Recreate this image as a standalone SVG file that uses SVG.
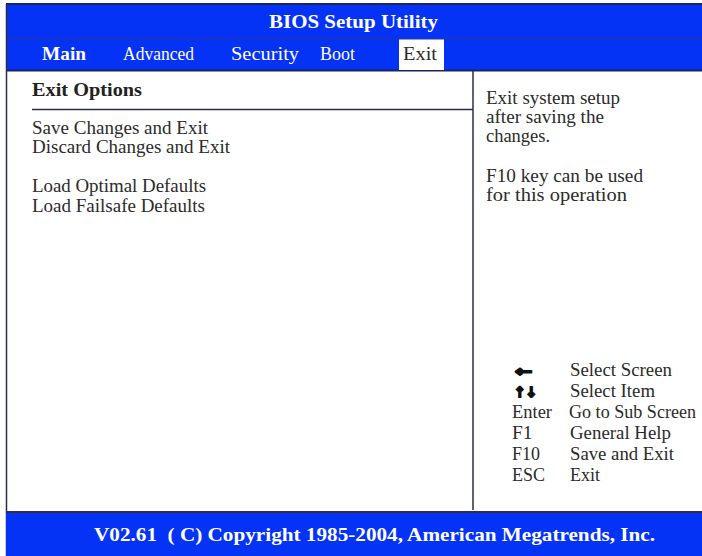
<svg xmlns="http://www.w3.org/2000/svg" width="702" height="556" viewBox="0 0 702 556">
  <style>
    .bar { fill: #0533f5; }
    .rule { stroke: #2a2e4a; stroke-width: 1.5; fill: none; }
    .t { font-family: "Liberation Serif", "Times New Roman", serif; font-size: 19.5px; fill: #2b2b2b; }
    .w { font-family: "Liberation Serif", "Times New Roman", serif; font-size: 19.5px; fill: #ffffff; }
    .b { font-weight: bold; }
    .arrow { font-family: "DejaVu Sans", sans-serif; font-size: 14px; font-weight: bold; fill: #111; stroke: #111; stroke-width: 1.8; }
  </style>
  <rect x="0" y="0" width="702" height="556" fill="#ffffff"/>

  <g id="title-bar">
    <rect class="bar" x="6" y="4" width="696" height="35"/>
    <line x1="6" y1="4" x2="702" y2="4" stroke="#1b2460" stroke-width="2"/>
    <line x1="6" y1="38.5" x2="702" y2="38.5" stroke="#2436a8" stroke-width="1.5"/>
    <text class="w b" x="269" y="28" textLength="169" lengthAdjust="spacingAndGlyphs">BIOS Setup Utility</text>
  </g>

  <g id="menu-bar">
    <rect class="bar" x="6" y="39" width="696" height="31"/>
    <line x1="6" y1="70.5" x2="702" y2="70.5" stroke="#1b2460" stroke-width="2"/>
    <text class="w b" x="42" y="60" textLength="44" lengthAdjust="spacingAndGlyphs">Main</text>
    <text class="w" x="123" y="60" textLength="71" lengthAdjust="spacingAndGlyphs">Advanced</text>
    <text class="w" x="231" y="60" textLength="68" lengthAdjust="spacingAndGlyphs">Security</text>
    <text class="w" x="320" y="60" textLength="35" lengthAdjust="spacingAndGlyphs">Boot</text>
    <rect x="399" y="39.5" width="45" height="30.5" fill="#ffffff"/>
    <text class="t" x="403" y="60" textLength="34" lengthAdjust="spacingAndGlyphs" fill="#222">Exit</text>
  </g>

  <g id="left-panel">
    <text class="t b" x="32" y="96" textLength="110" lengthAdjust="spacingAndGlyphs" style="fill:#222">Exit Options</text>
    <line class="rule" x1="32" y1="109.5" x2="473" y2="109.5"/>
    <text class="t" x="32" y="134" textLength="176" lengthAdjust="spacingAndGlyphs">Save Changes and Exit</text>
    <text class="t" x="32" y="153" textLength="198" lengthAdjust="spacingAndGlyphs">Discard Changes and Exit</text>
    <text class="t" x="32" y="192" textLength="174" lengthAdjust="spacingAndGlyphs">Load Optimal Defaults</text>
    <text class="t" x="32" y="212" textLength="173" lengthAdjust="spacingAndGlyphs">Load Failsafe Defaults</text>
  </g>

  <g id="divider">
    <line class="rule" x1="6.5" y1="4" x2="6.5" y2="556"/>
    <line class="rule" x1="473" y1="71" x2="473" y2="510"/>
  </g>

  <g id="right-panel">
    <text class="t" x="486" y="104" textLength="134" lengthAdjust="spacingAndGlyphs">Exit system setup</text>
    <text class="t" x="486" y="123" textLength="118" lengthAdjust="spacingAndGlyphs">after saving the</text>
    <text class="t" x="486" y="142" textLength="64" lengthAdjust="spacingAndGlyphs">changes.</text>
    <text class="t" x="486" y="182" textLength="157" lengthAdjust="spacingAndGlyphs">F10 key can be used</text>
    <text class="t" x="486" y="201" textLength="141" lengthAdjust="spacingAndGlyphs">for this operation</text>
  </g>

  <g id="key-legend">
    <text class="arrow" x="515" y="376" textLength="17" lengthAdjust="spacingAndGlyphs">←</text>
    <text class="arrow" x="514" y="397" textLength="23" lengthAdjust="spacingAndGlyphs">↑↓</text>
    <text class="t" x="570" y="376" textLength="102" lengthAdjust="spacingAndGlyphs">Select Screen</text>
    <text class="t" x="570" y="397" textLength="85" lengthAdjust="spacingAndGlyphs">Select Item</text>
    <text class="t" x="512" y="418" textLength="40" lengthAdjust="spacingAndGlyphs">Enter</text>
    <text class="t" x="569" y="418" font-size="18.5" style="font-size:18.5px" textLength="127" lengthAdjust="spacingAndGlyphs">Go to Sub Screen</text>
    <text class="t" x="512" y="439">F1</text>
    <text class="t" x="570" y="439" textLength="101" lengthAdjust="spacingAndGlyphs">General Help</text>
    <text class="t" x="512" y="460" textLength="28" lengthAdjust="spacingAndGlyphs">F10</text>
    <text class="t" x="570" y="460" textLength="104" lengthAdjust="spacingAndGlyphs">Save and Exit</text>
    <text class="t" x="512" y="481" textLength="33" lengthAdjust="spacingAndGlyphs">ESC</text>
    <text class="t" x="570" y="481" textLength="30" lengthAdjust="spacingAndGlyphs">Exit</text>
  </g>

  <g id="footer">
    <rect class="bar" x="6" y="512" width="696" height="44"/>
    <line x1="6" y1="512" x2="702" y2="512" stroke="#2a2e4a" stroke-width="2"/>
    <text class="w b" x="94" y="541" font-size="20" textLength="561" lengthAdjust="spacingAndGlyphs" xml:space="preserve">V02.61  ( C) Copyright 1985-2004, American Megatrends, Inc.</text>
  </g>
</svg>
